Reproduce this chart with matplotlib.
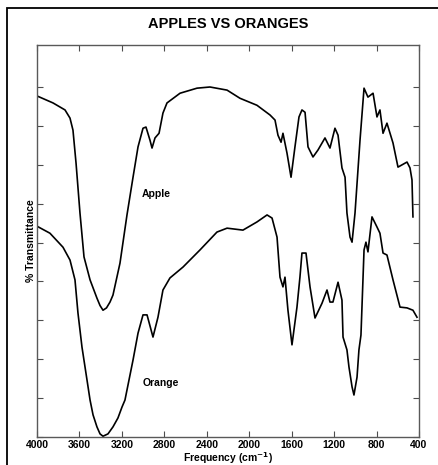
import matplotlib
matplotlib.use('Agg')
import matplotlib.pyplot as plt
from matplotlib.patches import Rectangle

# Apple spectrum (frequency in cm-1, % transmittance)
apple_freq = [4000, 3849, 3736, 3689, 3661, 3632, 3595, 3557, 3500, 3435, 3406, 3378,
              3345, 3312, 3284, 3218, 3152, 3095, 3048, 3001, 2973, 2935, 2916, 2888,
              2850, 2813, 2775, 2652, 2492, 2370, 2209, 2087, 1927, 1804, 1757,
              1729, 1700, 1682, 1644, 1606, 1569, 1531, 1503, 1474, 1446, 1399,
              1352, 1286, 1239, 1192, 1163, 1126, 1097, 1079, 1050, 1031, 1003,
              956, 918, 881, 833, 796, 768, 739, 702, 645, 598, 513, 485, 466, 457]
apple_trans = [87.7, 85.9, 84.1, 82.0, 78.9, 70.4, 57.6, 46.3, 40.4, 35.7, 33.8, 32.6,
               33.2, 34.7, 36.5, 44.7, 57.1, 66.8, 74.6, 79.4, 79.7, 76.3, 74.3, 76.9,
               78.1, 83.3, 85.9, 88.4, 89.7, 90.0, 89.2, 87.1, 85.3, 82.8, 81.5,
               77.6, 75.8, 78.1, 73.0, 66.8, 74.6, 82.3, 84.1, 83.5, 74.6, 72.0,
               73.8, 76.9, 74.3, 79.4, 77.6, 69.2, 66.8, 57.6, 51.4, 50.1, 57.6,
               76.3, 89.7, 87.4, 88.4, 82.3, 84.1, 78.1, 80.7, 75.6, 69.4, 70.7, 69.2, 66.1, 56.6]

# Orange spectrum
orange_freq = [4000, 3878, 3755, 3689, 3642, 3614, 3576, 3529, 3500, 3472, 3435, 3406,
               3378, 3331, 3284, 3237, 3199, 3171, 3095, 3048, 3001, 2963, 2907, 2860,
               2813, 2747, 2624, 2464, 2304, 2209, 2059, 1927, 1832, 1785, 1738, 1710,
               1682, 1663, 1635, 1597, 1550, 1522, 1503, 1465, 1427, 1380, 1314, 1267,
               1239, 1211, 1163, 1126, 1116, 1079, 1060, 1031, 1013, 984, 966, 947, 918,
               900, 881, 843, 796, 768, 739, 702, 645, 579, 513, 457, 419]
orange_trans = [54.2, 52.4, 48.8, 45.5, 40.4, 31.9, 23.1, 14.7, 9.5, 5.7, 2.6, 0.8,
                0.2, 0.8, 2.6, 4.9, 7.7, 9.5, 19.8, 26.7, 31.4, 31.4, 25.7, 30.8,
                37.8, 40.9, 43.7, 48.1, 52.7, 53.7, 53.2, 55.3, 57.1, 56.3, 51.4, 41.1,
                38.6, 41.1, 32.6, 23.7, 33.4, 41.1, 47.3, 47.3, 38.6, 30.6, 34.4, 37.8,
                34.7, 34.7, 39.8, 35.2, 25.7, 22.4, 18.0, 12.9, 10.8, 15.4, 22.4, 26.2, 48.1,
                50.1, 47.6, 56.6, 54.0, 52.4, 47.3, 46.8, 40.4, 33.4, 33.2, 32.6, 30.8]

xticks = [4000, 3600, 3200, 2800, 2400, 2000, 1600, 1200, 800, 400]
yticks = [0, 10, 20, 30, 40, 50, 60, 70, 80, 90]

plt.rcParams['font.family'] = ['Liberation Sans', 'DejaVu Sans']

fig = plt.figure(figsize=(4.38, 4.65), dpi=100)
ax = fig.add_axes([37 / 438, 28 / 465, 382 / 438, 392 / 465])

ax.plot(apple_freq, apple_trans, color='black', lw=1.2)
ax.plot(orange_freq, orange_trans, color='black', lw=1.2)

ax.set_xlim(4000, 400)
ax.set_ylim(0, 100.8)
ax.set_xticks(xticks)
ax.set_xticklabels([str(t) for t in xticks], fontsize=7.5, fontweight='bold')
ax.set_yticks(yticks)
ax.set_yticklabels([])
ax.tick_params(direction='in', top=True, right=True, length=4, width=0.8,
               color='0.3', pad=2)
for sp in ax.spines.values():
    sp.set_color('0.35')
    sp.set_linewidth(1.0)

ax.text(2880, 62.5, 'Apple', fontsize=7.5, fontweight='bold', ha='center', va='center')
ax.text(2830, 14.0, 'Orange', fontsize=7.5, fontweight='bold', ha='center', va='center')

ax.set_xlabel('Frequency (cm$^{\\mathbf{-1}}$)', fontsize=7.5, fontweight='bold', labelpad=0)
ax.set_ylabel('% Transmittance', fontsize=7.5, fontweight='bold', labelpad=-1)
ax.set_title('APPLES VS ORANGES', fontsize=10.5, fontweight='bold', pad=12)

# outer frame (only left and top edges are inside the picture)
fig.patches.append(Rectangle((7 / 438, -0.1), 1.2, (465 - 8) / 465 + 0.1,
                             transform=fig.transFigure, fill=False,
                             edgecolor='black', lw=1.3))

fig.savefig('out.png', dpi=100)
